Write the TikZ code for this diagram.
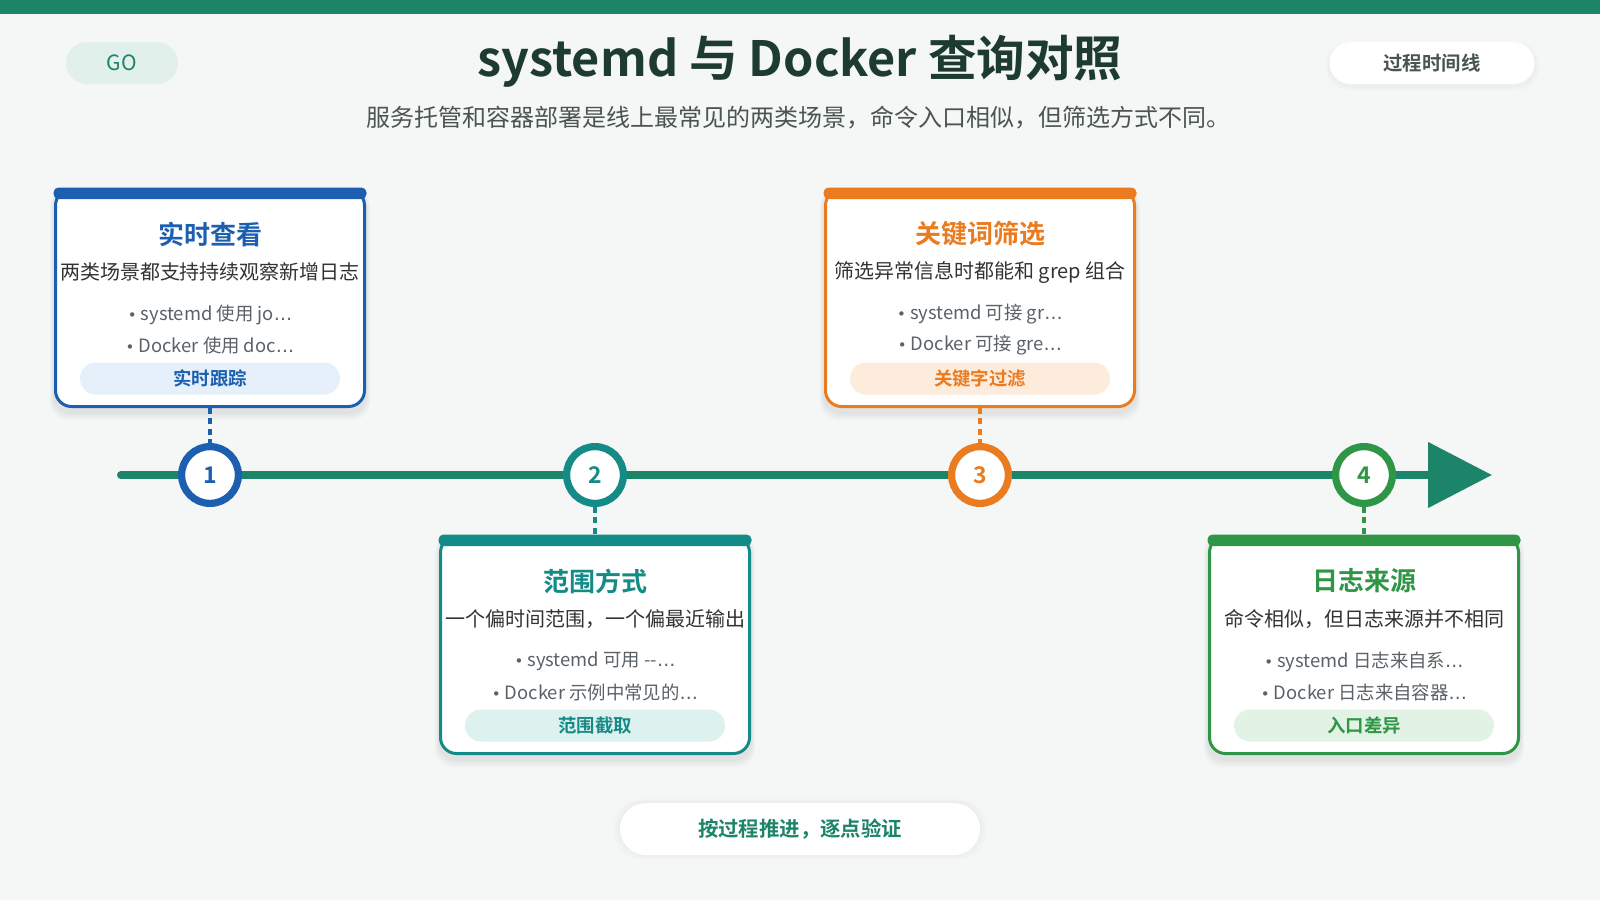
\documentclass[tikz,border=0pt]{standalone}
\usepackage{fontspec}
\setmainfont{Noto Sans CJK SC}[BoldFont={Noto Sans CJK SC Bold}]
\newfontfamily\dv{DejaVu Sans}
\usetikzlibrary{arrows.meta,calc}
\definecolor{bg}{HTML}{F4F7F6}
\definecolor{tl}{HTML}{1B8469}
\definecolor{cblue}{HTML}{1C5FB0}
\definecolor{cteal}{HTML}{148B87}
\definecolor{corange}{HTML}{EA7B1F}
\definecolor{cgreen}{HTML}{2E9646}
\definecolor{lblue}{HTML}{E6F0FB}
\definecolor{lteal}{HTML}{DDF1EF}
\definecolor{lorange}{HTML}{FDEBDC}
\definecolor{lgreen}{HTML}{E2F3E5}
\definecolor{tdark}{HTML}{1E3B31}
\definecolor{tgray}{HTML}{4A5550}
\definecolor{bgray}{HTML}{5A6268}
\definecolor{golight}{HTML}{E2F0EC}
\newcommand\bul{{\dv\fontsize{7.5}{8}\selectfont •}\ }
\newcommand\ellip{{\dv …}}
\newcommand\card[4]{%
  \foreach \s in {2,4,6,8}{\fill[black,opacity=0.018,rounded corners=9pt] (#2-156-\s/2,#3+4-\s/2) rectangle (#2+156+\s/2,#3+220+4+\s);}
  \node[cardbox,draw=#4] (#1) at (#2,#3+110) {};
  \fill[#4,rounded corners=2.5pt] (#2-156.5,#3-0.5) rectangle (#2+156.5,#3+11);
}
\newcommand\cardtext[8]{%
  \node[font=\fontsize{13}{16}\selectfont\bfseries,text=#2] (#1t) at ($(#1.north)+(0,46)$) {#4};
  \node[font=\fontsize{10}{12}\selectfont,text=black!80] (#1s) at ($(#1.north)+(0,84)$) {#5};
  \node[font=\fontsize{9.2}{11}\selectfont,text=bgray] (#1a) at ($(#1.north)+(0,126.5)$) {\bul #6\ellip};
  \node[font=\fontsize{9.2}{11}\selectfont,text=bgray] (#1b) at ($(#1.north)+(0,157.5)$) {\bul #7\ellip};
  \node[fill=#3,rounded corners=8pt,minimum width=130pt,minimum height=16pt,inner sep=0pt,
        font=\fontsize{9.2}{11}\selectfont\bfseries,text=#2] (#1p) at ($(#1.north)+(0,190.5)$) {#8};
}
\tikzset{
  cardbox/.style={rectangle,fill=white,rounded corners=8pt,line width=1.5pt,
    minimum width=154.5pt,minimum height=108.5pt,inner sep=0pt},
  numc/.style={circle,fill=white,line width=3.6pt,minimum size=28.4pt,inner sep=0pt,
    font=\fontsize{11.5}{13}\selectfont\bfseries},
  conn/.style={line width=2pt,dash pattern=on 3pt off 2.2pt},
  pill/.style={rectangle,rounded corners=10.5pt,minimum height=21pt,inner sep=0pt}
}
\begin{document}
\begin{tikzpicture}[x=0.5pt,y=-0.5pt]
\useasboundingbox (0,0) rectangle (1600,900);
\fill[bg] (0,0) rectangle (1600,900);
\fill[tl] (0,0) rectangle (1600,14);
% header
\node[pill,fill=golight,minimum width=56pt,font=\fontsize{10.5}{12}\selectfont,text=tl] (go) at (122,63) {GO};
\foreach \s in {2,4}{\fill[black,opacity=0.015,rounded corners=11pt] (1330-\s,42+2-\s/2) rectangle (1535+\s,84+2+\s);}
\node[pill,fill=white,minimum width=102.5pt,font=\fontsize{9.7}{12}\selectfont\bfseries,text=tgray] (tr) at (1432,63) {过程时间线};
\node[font=\fontsize{24.3}{28}\selectfont\bfseries,text=tdark] (title) at (800,61) {systemd 与 Docker 查询对照};
\node[font=\fontsize{12}{14}\selectfont,text=tgray] (subtitle) at (798,118) {服务托管和容器部署是线上最常见的两类场景，命令入口相似，但筛选方式不同。};
% timeline
\coordinate (ts) at (121,475);
\coordinate (te) at (1492,475);
\draw[tl,line width=4pt,line cap=round,-{Triangle[length=32pt,width=32pt]}] (ts) -- (te);
% cards
\card{c1}{210}{188}{cblue}
\card{c2}{595}{535}{cteal}
\card{c3}{980}{188}{corange}
\card{c4}{1364}{535}{cgreen}
\cardtext{c1}{cblue}{lblue}{实时查看}{两类场景都支持持续观察新增日志}{systemd 使用 jo}{Docker 使用 doc}{实时跟踪}
\cardtext{c2}{cteal}{lteal}{范围方式}{一个偏时间范围，一个偏最近输出}{systemd 可用 -{}-}{Docker 示例中常见的}{范围截取}
\cardtext{c3}{corange}{lorange}{关键词筛选}{筛选异常信息时都能和 grep 组合}{systemd 可接 gr}{Docker 可接 gre}{关键字过滤}
\cardtext{c4}{cgreen}{lgreen}{日志来源}{命令相似，但日志来源并不相同}{systemd 日志来自系}{Docker 日志来自容器}{入口差异}
% circles
\node[numc,draw=cblue,text=cblue] (n1) at (210,475) {1};
\node[numc,draw=cteal,text=cteal] (n2) at (595,475) {2};
\node[numc,draw=corange,text=corange] (n3) at (980,475) {3};
\node[numc,draw=cgreen,text=cgreen] (n4) at (1364,475) {4};
\draw[conn,cblue] (c1.south) -- (n1.north);
\draw[conn,cteal] (n2.south) -- (c2.north);
\draw[conn,corange] (c3.south) -- (n3.north);
\draw[conn,cgreen] (n4.south) -- (c4.north);
% bottom pill
\foreach \s in {2,4,6}{\fill[black,opacity=0.012,rounded corners=14pt] (620-\s,800+2-\s/2) rectangle (980+\s,852+2+\s);}
\node[pill,fill=white,minimum width=180pt,minimum height=26pt,rounded corners=13pt,
  font=\fontsize{10.2}{12}\selectfont\bfseries,text=tl] (foot) at (800,829) {按过程推进，逐点验证};
\end{tikzpicture}
\end{document}
